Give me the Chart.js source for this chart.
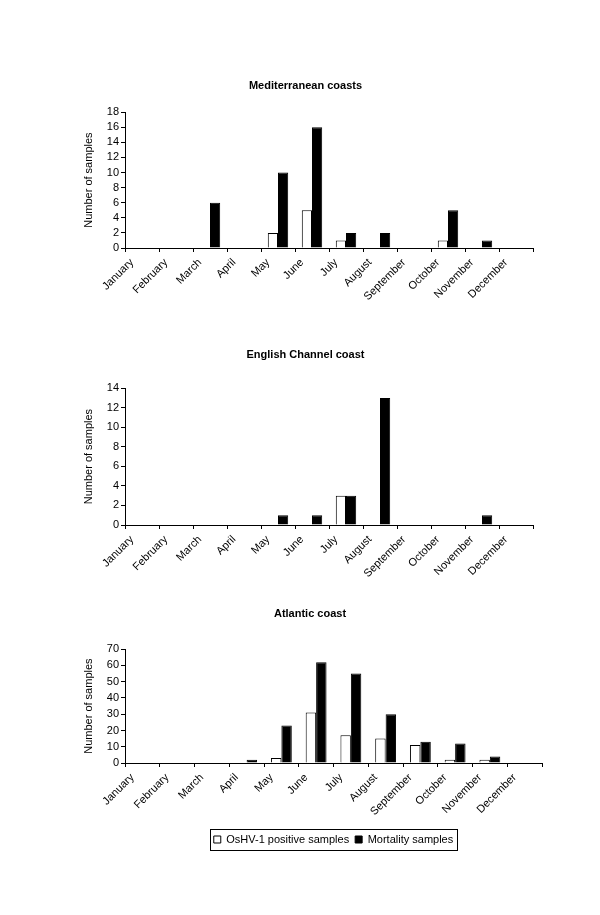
<!DOCTYPE html>
<html>
<head>
<meta charset="utf-8">
<script src="https://cdn.jsdelivr.net/npm/chart.js@4/dist/chart.umd.min.js"></script>
<style>
  body { margin: 0; background: #fff; }
  #wrap { position: relative; width: 600px; height: 915px; }
  canvas { position: absolute; left: 0; }
</style>
</head>
<body>
<div id="wrap">
  <canvas id="med" width="600" height="260" style="top:60px"></canvas>
  <canvas id="eng" width="600" height="260" style="top:330px"></canvas>
  <canvas id="atl" width="600" height="265" style="top:590px"></canvas>
</div>
<script>
const months = ['January', 'February', 'March', 'April', 'May', 'June', 'July',
    'August', 'September', 'October', 'November', 'December'];

// --- Series ---
const medPositive  = [0, 0, 0, 0, 2, 5, 1, 0, 0, 1, 0, 0];
const medMortality = [0, 0, 6, 0, 10, 16, 2, 2, 0, 5, 1, 0];
const engPositive  = [0, 0, 0, 0, 0, 0, 3, 0, 0, 0, 0, 0];
const engMortality = [0, 0, 0, 0, 1, 1, 3, 13, 0, 0, 1, 0];
const atlPositive  = [0, 0, 0, 0, 3, 31, 17, 15, 11, 2, 2, 0];
const atlMortality = [0, 0, 0, 2, 23, 62, 55, 30, 13, 12, 4, 0];

const seriesNames = ['OsHV-1 positive samples', 'Mortality samples'];

const FONT = 'Liberation Sans, Arial, sans-serif';
Chart.defaults.font.family = FONT;
Chart.defaults.color = '#000';

// draws a frame round the legend, like the original
const legendFrame = {
    id: 'legendFrame',
    afterDraw(chart) {
        const lg = chart.legend;
        if (!lg || !lg.options.display || !lg.legendHitBoxes.length) return;
        const boxes = lg.legendHitBoxes;
        const left = Math.min(...boxes.map(b => b.left)) - 4;
        const right = Math.max(...boxes.map(b => b.left + b.width)) + 4;
        const top = Math.min(...boxes.map(b => b.top)) - 5;
        const bottom = Math.max(...boxes.map(b => b.top + b.height)) + 5;
        const ctx = chart.ctx;
        ctx.save();
        ctx.strokeStyle = '#000';
        ctx.lineWidth = 1;
        ctx.strokeRect(Math.round(left) + 0.5, Math.round(top) + 0.5, Math.round(right - left), Math.round(bottom - top));
        ctx.restore();
    }
};

function makeChart(id, title, positive, mortality, opts) {
    const ctx = document.getElementById(id).getContext('2d');
    return new Chart(ctx, {
        type: 'bar',
        data: {
            labels: months,
            datasets: [{
                label: seriesNames[0],
                data: positive,
                backgroundColor: '#fff',
                borderColor: '#000',
                borderWidth: 1
            }, {
                label: seriesNames[1],
                data: mortality,
                backgroundColor: '#000',
                borderColor: '#000',
                borderWidth: 1
            }]
        },
        options: {
            responsive: false,
            animation: false,
            layout: { padding: { left: 78, right: opts.right, top: 0, bottom: 0 } },
            datasets: { bar: { categoryPercentage: 0.6, barPercentage: 1 } },
            plugins: {
                title: {
                    display: true,
                    text: title,
                    font: { size: 11, weight: 'bold' },
                    padding: { top: opts.titleTop, bottom: opts.titleBottom }
                },
                legend: {
                    display: !!opts.legend,
                    position: 'bottom',
                    fullSize: false,
                    labels: {
                        boxWidth: 7,
                        boxHeight: 7,
                        padding: 6,
                        font: { size: 11 },
                        color: '#000'
                    }
                },
                tooltip: { enabled: false }
            },
            scales: {
                x: {
                    offset: true,
                    grid: { drawOnChartArea: false, color: '#000', tickLength: 4, offset: true },
                    border: { color: '#000', width: 1 },
                    ticks: {
                        autoSkip: false,
                        minRotation: 45,
                        maxRotation: 45,
                        // labels sit at the left edge of each month, as in the original
                        labelOffset: -10,
                        padding: 4,
                        font: { size: 11 }
                    },
                    afterFit(scale) { scale.height = opts.xHeight; }
                },
                y: {
                    min: 0,
                    max: opts.max,
                    ticks: { stepSize: opts.step, autoSkip: false, padding: 2, font: { size: 11 } },
                    grid: { drawOnChartArea: false, color: '#000', tickLength: 4 },
                    border: { color: '#000', width: 1 },
                    title: { display: true, text: 'Number of samples', font: { size: 11 } },
                    afterFit(scale) { scale.width = 47; }
                }
            }
        },
        plugins: [legendFrame]
    });
}

makeChart('med', 'Mediterranean coasts', medPositive, medMortality,
    { max: 18, step: 2, right: 67, titleTop: 19, titleBottom: 20, xHeight: 72 });
makeChart('eng', 'English Channel coast', engPositive, engMortality,
    { max: 14, step: 2, right: 67, titleTop: 18, titleBottom: 27, xHeight: 65 });
makeChart('atl', 'Atlantic coast', atlPositive, atlMortality,
    { max: 70, step: 10, right: 58, titleTop: 17, titleBottom: 29, xHeight: 65, legend: true });
</script>
</body>
</html>
